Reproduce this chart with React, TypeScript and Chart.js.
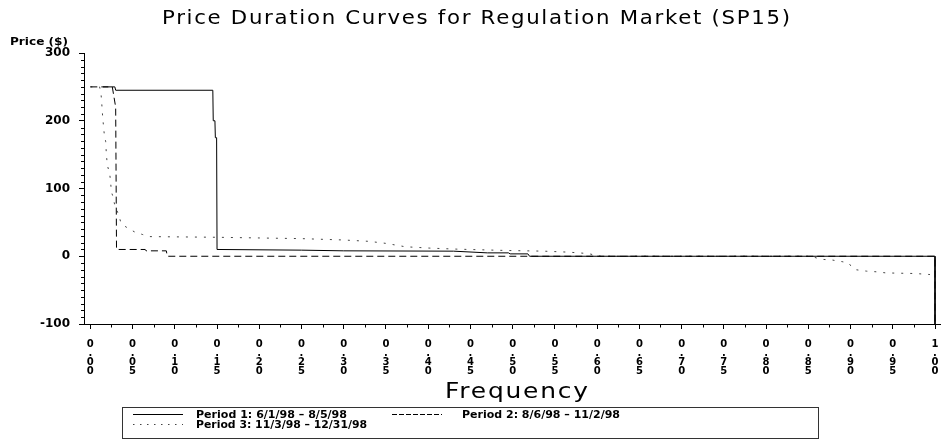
import React, { useEffect, useRef } from 'react';
import { Chart, registerables } from 'chart.js';

Chart.register(...registerables);

// ---------- text ----------
const TITLE = 'Price Duration Curves for Regulation Market (SP15)';
const X_TITLE = 'Frequency';
const Y_TITLE = 'Price ($)';
const SERIES_NAMES = [
  'Period 1: 6/1/98 – 8/5/98',
  'Period 2: 8/6/98 – 11/2/98',
  'Period 3: 11/3/98 – 12/31/98',
];

// ---------- axes ----------
const X_MIN = -0.0075;
const X_MAX = 1.006;
const Y_MIN = -100;
const Y_MAX = 300;
const xTickValues = [0, 0.05, 0.1, 0.15, 0.2, 0.25, 0.3, 0.35, 0.4, 0.45, 0.5, 0.55, 0.6, 0.65, 0.7, 0.75, 0.8, 0.85, 0.9, 0.95, 1.0];
const xTickLabels = ['0.00', '0.05', '0.10', '0.15', '0.20', '0.25', '0.30', '0.35', '0.40', '0.45', '0.50', '0.55', '0.60', '0.65', '0.70', '0.75', '0.80', '0.85', '0.90', '0.95', '1.00'];
const xMinorValues = [0.025, 0.075, 0.125, 0.175, 0.225, 0.275, 0.325, 0.375, 0.425, 0.475, 0.525, 0.575, 0.625, 0.675, 0.725, 0.775, 0.825, 0.875, 0.925, 0.975];
const yTickValues = [-100, 0, 100, 200, 300];
const yTickLabels = ['-100', '0', '100', '200', '300'];
const yMinorValues = [-90, -80, -70, -60, -50, -40, -30, -20, -10, 10, 20, 30, 40, 50, 60, 70, 80, 90, 110, 120, 130, 140, 150, 160, 170, 180, 190, 210, 220, 230, 240, 250, 260, 270, 280, 290];

// ---------- data ----------
// Period 1 (solid)
const p1Freq = [0.015, 0.029, 0.03, 0.145, 0.1455, 0.1475, 0.148, 0.1495, 0.15, 0.25, 0.3, 0.43, 0.47, 0.495, 0.497, 0.518, 0.52, 1.0, 1.0];
const p1Price = [250, 250, 245, 245, 200, 200, 175, 175, 10, 9, 8, 7.5, 5, 5, 3.5, 3.5, 0, 0, -100];
// Period 2 (dashed)
const p2Freq = [0, 0.026, 0.03, 0.031, 0.065, 0.066, 0.09, 0.091, 1.0, 1.0];
const p2Price = [250, 250, 220, 10, 10, 8, 8, 0, 0, -100];
// Period 3 (dotted)
const p3Freq = [0, 0.011, 0.0127, 0.0135, 0.0147, 0.0165, 0.0182, 0.019, 0.0202, 0.0229, 0.024, 0.0249, 0.0268, 0.0288, 0.0326, 0.0346, 0.0358, 0.0405, 0.0464, 0.0523, 0.062, 0.07, 0.15, 0.2, 0.25, 0.3, 0.33, 0.35, 0.373, 0.402, 0.434, 0.493, 0.537, 0.567, 0.589, 0.604, 0.853, 0.865, 0.878, 0.89, 0.898, 0.901, 0.907, 0.919, 0.931, 0.942, 0.977, 0.994];
const p3Price = [250, 250, 239, 226, 204, 180, 169, 150, 134, 122, 110, 95, 88, 76, 64, 57, 51, 44.6, 40, 36, 32, 29, 28, 27, 26, 24, 22, 19, 14, 12, 10.5, 8.5, 7.5, 6, 4, 0, 0, -4.5, -5.5, -8, -10, -15.5, -20, -22, -23, -24.6, -25.5, -27];

const toPoints = (xs: number[], ys: number[]) => xs.map((x, i) => ({ x, y: ys[i] }));

const FONT = 'DejaVu Sans';

// Draw text starting at x0, stretched to a given width (letter spacing + horizontal scale)
function fitText(ctx: CanvasRenderingContext2D, text: string, x0: number, baseline: number, width: number, font: string, spacing: number) {
  ctx.save();
  ctx.font = font;
  (ctx as any).letterSpacing = spacing + 'px';
  const w = ctx.measureText(text).width - spacing;
  const sx = width / w;
  ctx.translate(x0, baseline);
  ctx.scale(sx, 1);
  ctx.textAlign = 'left';
  ctx.textBaseline = 'alphabetic';
  ctx.fillStyle = '#000';
  ctx.fillText(text, 0, 0);
  ctx.restore();
}

const decorPlugin = {
  id: 'decor',
  afterDraw(chart: any) {
    const ctx: CanvasRenderingContext2D = chart.ctx;
    const xs = chart.scales.x;
    const ys = chart.scales.y;
    const area = chart.chartArea;
    ctx.save();
    ctx.strokeStyle = '#000';
    ctx.lineWidth = 1;
    ctx.setLineDash([]);
    ctx.beginPath();
    const axX = Math.round(area.left) + 0.5;
    for (const v of yMinorValues) {
      const py = Math.round(ys.getPixelForValue(v)) + 0.5;
      ctx.moveTo(axX - 3.5, py);
      ctx.lineTo(axX, py);
    }
    const axY = Math.round(area.bottom) + 0.5;
    for (const v of xMinorValues) {
      const px = Math.round(xs.getPixelForValue(v)) + 0.5;
      ctx.moveTo(px, axY);
      ctx.lineTo(px, axY + 3);
    }
    ctx.stroke();

    // titles
    fitText(ctx, TITLE, 162, 24, 628, `19px "${FONT}"`, 1.5);
    fitText(ctx, X_TITLE, 445, 398, 143, `21px "${FONT}"`, 1.5);
    fitText(ctx, Y_TITLE, 10, 45, 58, `bold 10px "${FONT}"`, 0);

    // legend
    ctx.strokeStyle = '#333';
    ctx.lineWidth = 1;
    ctx.strokeRect(122.5, 407.5, 696, 31);
    const samples = [
      { x: 133, y: 414.5, dash: [] as number[], color: '#000', tx: 196, tb: 418, tw: 151 },
      { x: 392, y: 414.5, dash: [5, 2], color: '#000', tx: 462, tb: 418, tw: 158 },
      { x: 133, y: 424.5, dash: [1.5, 5.5], color: '#444', tx: 196, tb: 428, tw: 171 },
    ];
    samples.forEach((s, i) => {
      ctx.strokeStyle = s.color;
      ctx.setLineDash(s.dash);
      ctx.beginPath();
      ctx.moveTo(s.x, s.y);
      ctx.lineTo(s.x + 50, s.y);
      ctx.stroke();
      ctx.setLineDash([]);
      fitText(ctx, SERIES_NAMES[i], s.tx, s.tb, s.tw, `bold 10px "${FONT}"`, 0);
    });
    ctx.restore();
  },
};

export default function App() {
  const ref = useRef<HTMLCanvasElement | null>(null);
  useEffect(() => {
    if (!ref.current) return;
    const chart = new Chart(ref.current, {
      type: 'line',
      data: {
        datasets: [
          {
            label: SERIES_NAMES[0],
            data: toPoints(p1Freq, p1Price),
            borderColor: '#000',
            borderWidth: 1,
            pointRadius: 0,
            fill: false,
          },
          {
            label: SERIES_NAMES[1],
            data: toPoints(p2Freq, p2Price),
            borderColor: '#000',
            borderWidth: 1,
            borderDash: [7, 4],
            pointRadius: 0,
            fill: false,
          },
          {
            label: SERIES_NAMES[2],
            data: toPoints(p3Freq, p3Price),
            borderColor: '#444',
            borderWidth: 1,
            borderDash: [2, 7],
            pointRadius: 0,
            fill: false,
          },
        ],
      },
      options: {
        animation: false,
        responsive: false,
        devicePixelRatio: 1,
        layout: { padding: { left: 0, right: 2, top: 53, bottom: 59 } },
        elements: { line: { tension: 0 } },
        plugins: {
          legend: { display: false },
          title: { display: false },
          tooltip: { enabled: false },
        },
        scales: {
          x: {
            type: 'linear',
            min: X_MIN,
            max: X_MAX,
            afterBuildTicks: (s: any) => {
              s.ticks = xTickValues.map((v) => ({ value: v }));
            },
            afterFit: (s: any) => {
              s.height = 60;
            },
            grid: { drawOnChartArea: false, tickLength: 5, color: '#000', tickColor: '#000', tickWidth: 1 },
            border: { color: '#000', width: 1 },
            ticks: {
              autoSkip: false,
              maxRotation: 0,
              minRotation: 0,
              padding: 10.5,
              color: '#000',
              font: { family: FONT, size: 10, weight: 'bold', lineHeight: '9px' },
              callback: (v: any) => {
                const i = xTickValues.findIndex((t) => Math.abs(t - Number(v)) < 1e-9);
                return i >= 0 ? xTickLabels[i].split('') : '';
              },
            },
          },
          y: {
            type: 'linear',
            min: Y_MIN,
            max: Y_MAX,
            afterBuildTicks: (s: any) => {
              s.ticks = yTickValues.map((v) => ({ value: v }));
            },
            afterFit: (s: any) => {
              s.width = 84;
            },
            grid: { drawOnChartArea: false, tickLength: 5, color: '#000', tickColor: '#000', tickWidth: 1 },
            border: { color: '#000', width: 1 },
            ticks: {
              padding: 9,
              color: '#000',
              font: { family: FONT, size: 12, weight: 'bold' },
              callback: (v: any) => {
                const i = yTickValues.indexOf(Number(v));
                return i >= 0 ? yTickLabels[i] : '';
              },
            },
          },
        },
      },
      plugins: [decorPlugin],
    } as any);
    return () => chart.destroy();
  }, []);
  return (
    <div style={{ position: 'fixed', left: 0, top: 0, width: 949, height: 443, background: '#fff' }}>
      <canvas ref={ref} width={949} height={443} style={{ display: 'block' }} />
    </div>
  );
}
